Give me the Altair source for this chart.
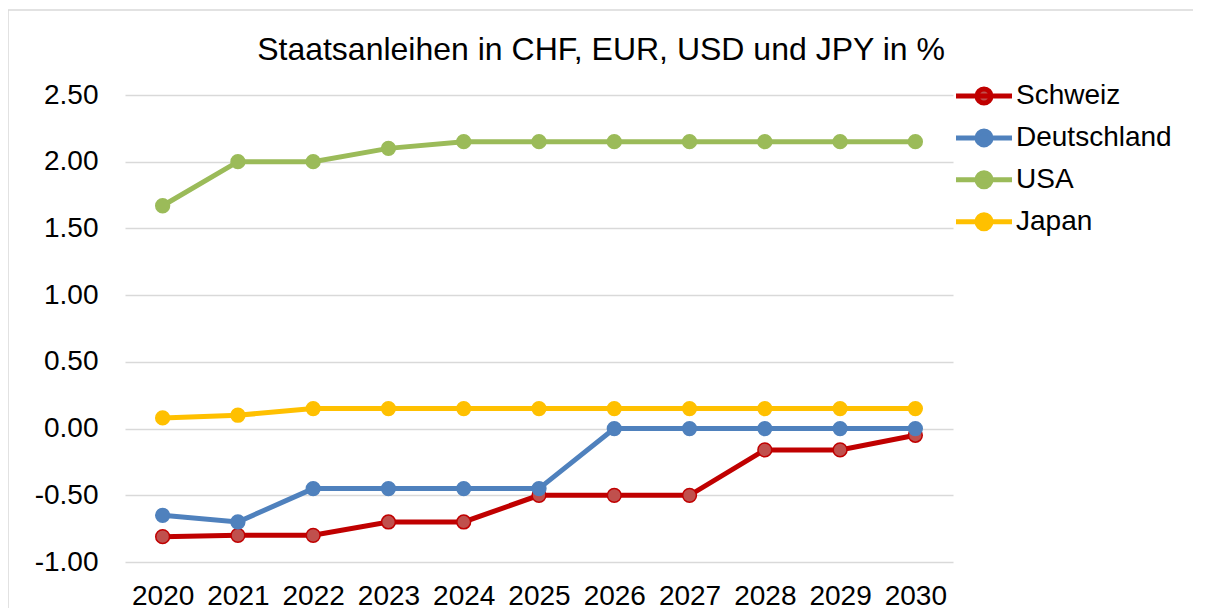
import altair as alt
import pandas as pd

# ---- data ----
jahre = ["2020", "2021", "2022", "2023", "2024", "2025", "2026", "2027", "2028", "2029", "2030"]
laender = ["Schweiz", "Deutschland", "USA", "Japan"]
schweiz = [-0.81, -0.80, -0.80, -0.70, -0.70, -0.50, -0.50, -0.50, -0.16, -0.16, -0.05]
deutschland = [-0.65, -0.70, -0.45, -0.45, -0.45, -0.45, 0.00, 0.00, 0.00, 0.00, 0.00]
usa = [1.67, 2.00, 2.00, 2.10, 2.15, 2.15, 2.15, 2.15, 2.15, 2.15, 2.15]
japan = [0.08, 0.10, 0.15, 0.15, 0.15, 0.15, 0.15, 0.15, 0.15, 0.15, 0.15]
y_ticks = [-1.0, -0.5, 0.0, 0.5, 1.0, 1.5, 2.0, 2.5]
titel = "Staatsanleihen in CHF, EUR, USD und JPY in %"

linienfarben = ["#C00000", "#4F81BD", "#9BBB59", "#FFC000"]
punktfarben = ["#C0504D", "#4F81BD", "#9BBB59", "#FFC000"]

rows = []
for land, werte in zip(laender, [schweiz, deutschland, usa, japan]):
    for j, w in zip(jahre, werte):
        rows.append({"Jahr": j, "Land": land, "Zins": w})
df = pd.DataFrame(rows)

FONT = "Liberation Sans"
LBL = 28

x = alt.X(
    "Jahr:O", sort=jahre, title=None,
    scale=alt.Scale(type="point", padding=0.5),
    axis=alt.Axis(labelAngle=0, labelFontSize=LBL, labelFont=FONT, labelColor="black",
                  labelPadding=20, domain=False, ticks=False, grid=False),
)
y = alt.Y(
    "Zins:Q", title=None,
    scale=alt.Scale(domain=[-1, 2.5], nice=False, zero=False),
    axis=alt.Axis(values=y_ticks,
                  labelExpr="(datum.value < 0 ? '-' : '') + format(abs(datum.value), '.2f')",
                  labelFontSize=LBL, labelFont=FONT, labelColor="black", labelPadding=27,
                  domain=False, ticks=False, grid=True, gridColor="#D9D9D9", gridWidth=1.5),
)

stroke_scale = alt.Scale(domain=laender, range=linienfarben)
fill_scale = alt.Scale(domain=laender, range=punktfarben)
legend = alt.Legend(
    title=None, orient="none", legendX=842.5, legendY=-15.5,
    symbolType="M-2,0H2M-0.5,0A0.5,0.5 0 1,1 0.5,0A0.5,0.5 0 1,1 -0.5,0",
    symbolSize=784, symbolStrokeWidth=5,
    labelFont=FONT, labelFontSize=LBL, labelColor="black", labelOffset=15.5,
    rowPadding=6.9, padding=0, labelLimit=400,
)

frame = alt.Chart(pd.DataFrame({"r": [0]})).mark_rect(
    fill="transparent", stroke="#D9D9D9", strokeWidth=1.5
).encode(x=alt.value(-117), x2=alt.value(1300), y=alt.value(-85), y2=alt.value(800))

title_mark = alt.Chart(pd.DataFrame({"t": [titel]})).mark_text(
    font=FONT, fontSize=32, color="black", align="center", baseline="alphabetic"
).encode(text="t:N", x=alt.value(476), y=alt.value(-35))

lines = alt.Chart(df).mark_line(strokeWidth=5).encode(
    x=x, y=y,
    stroke=alt.Stroke("Land:N", scale=stroke_scale, legend=legend, sort=laender),
)
points = alt.Chart(df).mark_circle(size=190, opacity=1, strokeWidth=1.5).encode(
    x=x, y=y,
    stroke=alt.Stroke("Land:N", scale=stroke_scale, legend=legend, sort=laender),
    fill=alt.Fill("Land:N", scale=fill_scale, legend=legend, sort=laender),
)

chart = alt.layer(frame, title_mark, lines, points).properties(
    width=828, height=467,
    autosize=alt.AutoSizeParams(type="none"),
    padding={"left": 117, "top": 87, "right": 240, "bottom": 46},
).configure_view(strokeWidth=0)

chart.save("out.html", embed_options={"renderer": "svg", "actions": False})
